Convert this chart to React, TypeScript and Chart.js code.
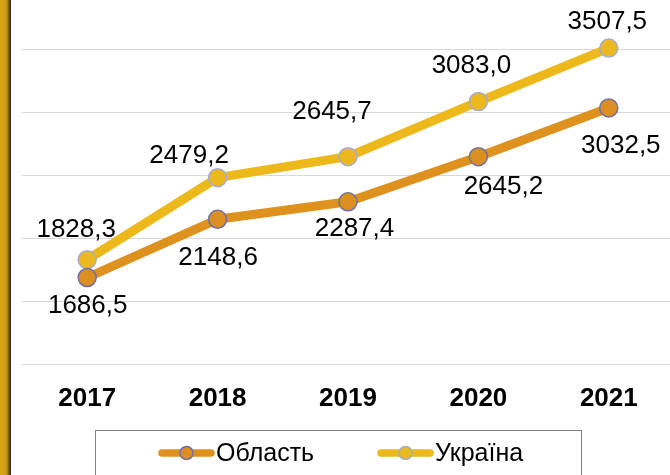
import { useEffect, useRef } from "react";
import { Chart, registerables } from "chart.js";

Chart.register(...registerables);

const categories = ["2017", "2018", "2019", "2020", "2021"];
const oblastValues = [1686.5, 2148.6, 2287.4, 2645.2, 3032.5];
const ukraineValues = [1828.3, 2479.2, 2645.7, 3083.0, 3507.5];
const seriesNames = ["Область", "Україна"];
const gridTicks = [1000, 1500, 2000, 2500, 3000, 3500];

const FONT = "'Liberation Sans', Arial, sans-serif";
const OBLAST_LINE = "#DF911E";
const OBLAST_FILL = "#DC8F21";
const OBLAST_BORDER = "#7070A8";
const UKR_LINE = "#EDB81A";
const UKR_FILL = "#EBB820";
const UKR_BORDER = "#A3AED4";

// label offsets relative to each point (style only)
const LABEL_OFFSETS: number[][][] = [
  [[0.5, 28.5], [0.5, 39], [6.5, 27], [25, 30.5], [12, 37.5]],
  [[-11, -30], [-28.5, -22], [-16, -44.5], [-7, -35.5], [-1.5, -26.5]],
];

const fmt = (v: number) => v.toFixed(1).replace(".", ",");

const dataLabelPlugin = {
  id: "dataLabels",
  afterDatasetsDraw(chart: any) {
    const ctx = chart.ctx;
    ctx.save();
    ctx.font = `26px ${FONT}`;
    ctx.fillStyle = "#000";
    ctx.textAlign = "center";
    ctx.textBaseline = "middle";
    chart.data.datasets.forEach((ds: any, di: number) => {
      const meta = chart.getDatasetMeta(di);
      meta.data.forEach((pt: any, i: number) => {
        const off = LABEL_OFFSETS[di][i];
        ctx.fillText(fmt(ds.data[i]), pt.x + off[0], pt.y + off[1]);
      });
    });
    ctx.restore();
  },
};

const legendPlugin = {
  id: "boxLegend",
  afterDraw(chart: any) {
    const ctx = chart.ctx;
    ctx.save();
    ctx.strokeStyle = "#808080";
    ctx.lineWidth = 1;
    ctx.strokeRect(95.5, 430.5, 486, 60);
    const items = [
      { x: 159, line: OBLAST_LINE, fill: OBLAST_FILL, border: OBLAST_BORDER },
      { x: 378, line: UKR_LINE, fill: UKR_FILL, border: UKR_BORDER },
    ];
    const cy = 453;
    items.forEach((it, i) => {
      ctx.strokeStyle = it.line;
      ctx.lineWidth = 7.5;
      ctx.lineCap = "round";
      ctx.beginPath();
      ctx.moveTo(it.x + 3, cy);
      ctx.lineTo(it.x + 52, cy);
      ctx.stroke();
      ctx.beginPath();
      ctx.arc(it.x + 27.5, cy, 6.5, 0, Math.PI * 2);
      ctx.fillStyle = it.fill;
      ctx.fill();
      ctx.lineWidth = 1.5;
      ctx.strokeStyle = it.border;
      ctx.stroke();
      ctx.fillStyle = "#000";
      ctx.font = `25px ${FONT}`;
      ctx.textAlign = "left";
      ctx.textBaseline = "middle";
      ctx.fillText(seriesNames[i], it.x + 57, cy + 1);
    });
    ctx.restore();
  },
};

export default function App() {
  const ref = useRef<HTMLCanvasElement | null>(null);

  useEffect(() => {
    if (!ref.current) return;
    const chart = new Chart(ref.current, {
      type: "line",
      data: {
        labels: categories,
        datasets: [
          {
            label: seriesNames[0],
            data: oblastValues,
            borderColor: OBLAST_LINE,
            borderWidth: 9,
            backgroundColor: OBLAST_FILL,
            pointBackgroundColor: OBLAST_FILL,
            pointBorderColor: OBLAST_BORDER,
            pointBorderWidth: 1.5,
            pointRadius: 9,
            borderCapStyle: "round",
            borderJoinStyle: "round",
            tension: 0,
            clip: false,
          },
          {
            label: seriesNames[1],
            data: ukraineValues,
            borderColor: UKR_LINE,
            borderWidth: 9,
            backgroundColor: UKR_FILL,
            pointBackgroundColor: UKR_FILL,
            pointBorderColor: UKR_BORDER,
            pointBorderWidth: 1.5,
            pointRadius: 9,
            borderCapStyle: "round",
            borderJoinStyle: "round",
            tension: 0,
            clip: false,
          },
        ],
      },
      options: {
        animation: false,
        responsive: false,
        maintainAspectRatio: false,
        layout: { autoPadding: false, padding: { left: 22, right: 0, top: 0, bottom: 0 } },
        plugins: {
          legend: { display: false },
          tooltip: { enabled: false },
        },
        scales: {
          x: {
            offset: true,
            grid: { display: false, drawTicks: false },
            border: { display: false },
            ticks: {
              color: "#000",
              font: { family: FONT, size: 26, weight: "bold" },
              padding: 19,
              maxRotation: 0,
            },
            afterFit: (s: any) => {
              s.height = 111;
            },
          },
          y: {
            min: 1000,
            max: 3889,
            afterBuildTicks: (s: any) => {
              s.ticks = gridTicks.map((v) => ({ value: v }));
            },
            ticks: { display: false },
            grid: { color: "#D9D9D9", lineWidth: 1, drawTicks: false },
            border: { display: false },
          },
        },
      },
      plugins: [dataLabelPlugin, legendPlugin],
    } as any);
    return () => chart.destroy();
  }, []);

  return (
    <div
      style={{
        position: "fixed",
        left: 0,
        top: 0,
        width: 670,
        height: 475,
        overflow: "hidden",
        background: "#fff",
      }}
    >
      <canvas
        ref={ref}
        width={674}
        height={475}
        style={{ position: "absolute", left: 0, top: 0, width: 674, height: 475 }}
      />
      <div
        style={{
          position: "absolute",
          left: 0,
          top: 0,
          width: 11,
          height: 475,
          background:
            "linear-gradient(to right, #D8A716 0%, #D0A015 50%, #A88516 68%, #5A4A1C 85%, #2E2A1F 100%)",
        }}
      />
    </div>
  );
}
